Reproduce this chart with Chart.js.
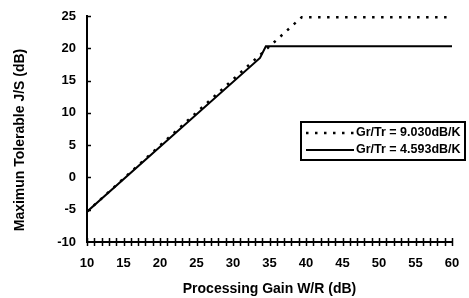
<!DOCTYPE html>
<html><head><meta charset="utf-8">
<script src="https://cdn.jsdelivr.net/npm/chart.js@4/dist/chart.umd.min.js"></script>
<style>html,body{margin:0;padding:0;background:#fff;}#wrap{width:469px;height:298px;}</style>
</head><body><div id="wrap"><canvas id="c" width="469" height="298"></canvas></div>
<script>
const xSolid = [10, 33.7, 34.5, 60];
const ySolid = [-5.3, 18.5, 20.3, 20.3];
const xDotted = [10, 39.4, 60];
const yDotted = [-5.3, 24.8, 24.8];
const legendLabels = ['Gr/Tr = 9.030dB/K', 'Gr/Tr = 4.593dB/K'];
const xTitle = 'Processing Gain W/R (dB)';
const yTitle = 'Maximun Tolerable J/S (dB)';

const FONT = '"Liberation Sans", Arial, sans-serif';
const toPts = (xs, ys) => xs.map((x, i) => ({x, y: ys[i]}));

const tickPlugin = {
  id: 'ticks',
  afterDraw(chart) {
    const ctx = chart.ctx, xs = chart.scales.x, ys = chart.scales.y;
    const a = chart.chartArea;
    ctx.save();
    ctx.strokeStyle = '#000';
    ctx.lineWidth = 1.5;
    for (let v = 10; v <= 60; v++) {
      const px = Math.round(xs.getPixelForValue(v)) + 0.5;
      ctx.beginPath(); ctx.moveTo(px, a.bottom - 4); ctx.lineTo(px, a.bottom + 4); ctx.stroke();
    }
    for (let v = -5; v <= 25; v += 5) {
      const py = Math.round(ys.getPixelForValue(v)) + 0.5;
      ctx.beginPath(); ctx.moveTo(a.left, py); ctx.lineTo(a.left + 4, py); ctx.stroke();
    }
    // y title
    ctx.save();
    ctx.fillStyle = '#000';
    ctx.font = 'bold 14px ' + FONT;
    ctx.textAlign = 'center';
    ctx.textBaseline = 'middle';
    ctx.translate(20, 140);
    ctx.rotate(-Math.PI / 2);
    ctx.fillText(yTitle, 0, 0);
    ctx.restore();
    // legend box
    const bx = 301, by = 122, bw = 164, bh = 38;
    ctx.fillStyle = '#fff';
    ctx.fillRect(bx, by, bw, bh);
    ctx.lineWidth = 2;
    ctx.strokeRect(bx, by, bw, bh);
    ctx.lineWidth = 2.5;
    ctx.setLineDash([2.5, 6.5]);
    ctx.beginPath(); ctx.moveTo(306, 133); ctx.lineTo(354, 133); ctx.stroke();
    ctx.setLineDash([]);
    ctx.lineWidth = 2;
    ctx.beginPath(); ctx.moveTo(306, 150); ctx.lineTo(354, 150); ctx.stroke();
    ctx.fillStyle = '#000';
    ctx.font = 'bold 12.5px ' + FONT;
    ctx.textBaseline = 'middle';
    ctx.beginPath(); ctx.rect(bx, by, bw - 1, bh); ctx.clip();
    ctx.fillText(legendLabels[0], 356, 133);
    ctx.fillText(legendLabels[1], 356, 150);
    ctx.restore();
  }
};

new Chart(document.getElementById('c'), {
  type: 'line',
  data: {
    datasets: [
      {label: legendLabels[1], data: toPts(xSolid, ySolid), borderColor: '#000', borderWidth: 2, pointRadius: 0, tension: 0, fill: false},
      {label: legendLabels[0], data: toPts(xDotted, yDotted), borderColor: '#000', borderWidth: 2.5, borderDash: [2.5, 6.5], pointRadius: 0, tension: 0, fill: false}
    ]
  },
  options: {
    responsive: false,
    animation: false,
    devicePixelRatio: 1,
    layout: {padding: {left: 0, right: 17, top: 16, bottom: 0}},
    plugins: {legend: {display: false}, tooltip: {enabled: false}},
    scales: {
      x: {
        type: 'linear', min: 10, max: 60,
        grid: {display: false, drawTicks: false},
        border: {display: true, color: '#000', width: 2},
        ticks: {stepSize: 5, color: '#000', font: {family: FONT, size: 13, weight: 'bold'}, padding: 14, maxRotation: 0},
        title: {display: true, text: xTitle, color: '#000', font: {family: FONT, size: 14, weight: 'bold'}, padding: {top: 4, bottom: 0}},
        afterFit(s) { s.height = 56; s.paddingLeft = 0; s.paddingRight = 0; }
      },
      y: {
        min: -10, max: 25,
        grid: {display: false, drawTicks: false},
        border: {display: true, color: '#000', width: 2},
        ticks: {stepSize: 5, color: '#000', font: {family: FONT, size: 13, weight: 'bold'}, padding: 11},
        title: {display: false},
        afterFit(s) { s.width = 87; s.paddingTop = 0; s.paddingBottom = 0; }
      }
    }
  },
  plugins: [tickPlugin]
});
</script></body></html>
